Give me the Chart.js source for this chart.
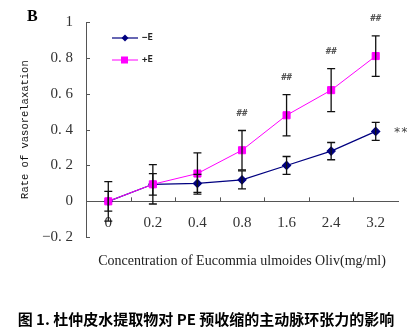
<!DOCTYPE html>
<html>
<head>
<meta charset="utf-8">
<script src="https://cdn.jsdelivr.net/npm/chart.js@4.4.0/dist/chart.umd.min.js"></script>
<style>
  body { margin: 0; background: #fff; }
  canvas { display: block; }
</style>
</head>
<body>
<canvas id="grafico" width="414" height="334"></canvas>
<script>
// concentraciones (mg/ml)
const concentraciones = ['0', '0.2', '0.4', '0.8', '1.6', '2.4', '3.2'];

// -E
const sinE = [0, 0.095, 0.10, 0.12, 0.20, 0.28, 0.39];
const sinEError = [0.055, 0.06, 0.05, 0.05, 0.05, 0.048, 0.05];

// +E
const conE = [0, 0.095, 0.155, 0.285, 0.48, 0.62, 0.81];
const conEError = [0.11, 0.11, 0.115, 0.11, 0.115, 0.12, 0.113];

// marcas de significancia sobre +E
const marcasConE = ['', '', '', '##', '##', '##', '##'];

const ctx = document.getElementById('grafico');

const barrasError = {
  id: 'barrasError',
  afterDatasetsDraw(chart) {
    const c = chart.ctx;
    const x = chart.scales.x;
    const y = chart.scales.y;
    const series = [[conE, conEError], [sinE, sinEError]];
    c.save();
    c.strokeStyle = '#111';
    c.lineWidth = 1.3;
    for (const [vals, errs] of series) {
      vals.forEach((v, i) => {
        const px = x.getPixelForValue(i);
        const top = y.getPixelForValue(v + errs[i]);
        const bot = y.getPixelForValue(v - errs[i]);
        c.beginPath();
        c.moveTo(px, top); c.lineTo(px, bot);
        c.moveTo(px - 4, top); c.lineTo(px + 4, top);
        c.moveTo(px - 4, bot); c.lineTo(px + 4, bot);
        c.stroke();
      });
    }
    c.restore();
  },
  afterDraw(chart) {
    const c = chart.ctx;
    const x = chart.scales.x;
    const y = chart.scales.y;
    const area = chart.chartArea;
    c.save();

    // marcas de los ejes hacia adentro
    c.strokeStyle = '#555';
    c.lineWidth = 1;
    const ejeY = y.getPixelForValue(0);
    for (let i = 0; i < concentraciones.length - 1; i++) {
      const px = Math.round((x.getPixelForValue(i) + x.getPixelForValue(i + 1)) / 2) + 0.5;
      c.beginPath(); c.moveTo(px, ejeY); c.lineTo(px, ejeY - 4); c.stroke();
    }
    for (const t of y.ticks) {
      const py = Math.round(y.getPixelForValue(t.value)) + 0.5;
      c.beginPath(); c.moveTo(area.left, py); c.lineTo(area.left + 4, py); c.stroke();
    }

    // ## y **
    c.fillStyle = '#555';
    c.font = 'bold 9px "DejaVu Sans Mono"';
    c.textAlign = 'center';
    c.textBaseline = 'middle';
    marcasConE.forEach((m, i) => {
      if (!m) return;
      const px = x.getPixelForValue(i);
      const py = y.getPixelForValue(conE[i] + conEError[i]) - 17;
      c.fillText(m, px, py);
    });
    const ult = sinE.length - 1;
    c.fillStyle = '#444';
    c.font = '12px "DejaVu Sans Mono"';
    c.fillText('**', x.getPixelForValue(ult) + 25, y.getPixelForValue(sinE[ult]) + 1);

    // leyenda
    const items = chart.data.datasets.map((d) => d);
    const filas = [38, 60];
    [items[1], items[0]].forEach((d, k) => {
      const fy = filas[k];
      c.strokeStyle = d.borderColor;
      c.lineWidth = d.borderWidth;
      c.beginPath(); c.moveTo(112, fy); c.lineTo(138, fy); c.stroke();
      c.fillStyle = d.backgroundColor;
      if (d.pointStyle === 'rect') {
        c.fillRect(121, fy - 3.5, 7, 7);
      } else {
        c.beginPath();
        c.moveTo(125, fy - 3.5); c.lineTo(128.5, fy); c.lineTo(125, fy + 3.5); c.lineTo(121.5, fy);
        c.closePath(); c.fill();
      }
      c.fillStyle = '#222';
      c.font = 'bold 9px "DejaVu Sans Mono"';
      c.textAlign = 'left';
      c.fillText(d.label, 142, fy);
    });

    // letra del panel
    c.fillStyle = '#000';
    c.font = 'bold 16px "Liberation Serif"';
    c.textAlign = 'left';
    c.fillText('B', 27, 17);
    c.restore();
  },
};

new Chart(ctx, {
  type: 'line',
  data: {
    labels: concentraciones,
    datasets: [
      {
        label: '+E',
        data: conE,
        borderColor: '#ff00ff',
        backgroundColor: '#ff00ff',
        borderWidth: 1,
        pointStyle: 'rect',
        pointRadius: 5,
        tension: 0,
      },
      {
        label: '−E',
        data: sinE,
        borderColor: '#000080',
        backgroundColor: '#000080',
        borderWidth: 1.2,
        pointStyle: 'rectRot',
        pointRadius: 4,
        tension: 0,
      },
    ],
  },
  options: {
    responsive: false,
    animation: false,
    devicePixelRatio: 1,
    layout: { padding: { top: 15, right: 16, left: 14, bottom: 0 } },
    plugins: {
      legend: { display: false },
      tooltip: { enabled: false },
      title: {
        display: true,
        position: 'bottom',
        text: '图 1. 杜仲皮水提取物对 PE 预收缩的主动脉环张力的影响',
        color: '#000',
        font: { family: '"Noto Sans CJK SC"', size: 15, weight: 'bold' },
        padding: { top: 40, bottom: 6 },
      },
      subtitle: {
        display: true,
        position: 'bottom',
        fullSize: false,
        text: 'Concentration of Eucommia ulmoides Oliv(mg/ml)',
        color: '#222',
        font: { family: '"Liberation Serif"', size: 14 },
        padding: { top: 16, bottom: 0 },
      },
    },
    scales: {
      x: {
        type: 'category',
        position: { y: 0 },
        offset: true,
        grid: { display: false, drawTicks: false },
        border: { display: true, color: '#555', width: 1 },
        ticks: {
          color: '#333',
          padding: 13,
          font: { family: '"Liberation Serif"', size: 15 },
        },
      },
      y: {
        min: -0.2,
        max: 1,
        afterFit(s) { s.width = 72; },
        grid: { display: false, drawTicks: false },
        border: { display: true, color: '#555', width: 1 },
        ticks: {
          stepSize: 0.2,
          padding: 13,
          color: '#333',
          font: { family: '"Liberation Serif"', size: 15 },
          callback: (v) => {
            const n = Math.round(v * 10) / 10;
            if (n === 0 || n === 1) return String(n);
            return (n < 0 ? '−' : '') + Math.abs(n).toFixed(1).replace('.', '. ');
          },
        },
        title: {
          display: true,
          text: 'Rate of vasorelaxation',
          color: '#111',
          font: { family: '"Liberation Mono"', size: 10.5 },
          padding: { top: 5, bottom: 0 },
        },
      },
    },
  },
  plugins: [barrasError],
});
</script>
</body>
</html>
